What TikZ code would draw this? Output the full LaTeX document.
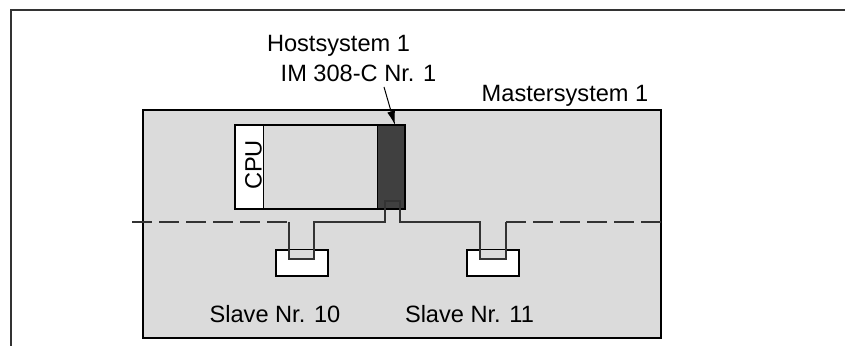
\documentclass[tikz,border=0pt]{standalone}
\usepackage{fontspec}
\setmainfont{Liberation Sans}
\usetikzlibrary{arrows.meta}
\definecolor{panelgrey}{gray}{0.86}
\definecolor{imgrey}{gray}{0.25}

\begin{document}
\begin{tikzpicture}[x=0.5pt,y=-0.5pt,
    font=\fontsize{11.8}{13}\selectfont,
    label/.style={anchor=base,inner sep=0pt},
    bus/.style={line width=0.6pt,draw=black!80},
    slavebox/.style={fill=white,line width=1.3pt},
    notch/.style={fill=panelgrey}]
    \useasboundingbox (0,0) rectangle (845,356);

    % frame and master system
    \draw [black!80,line width=0.6pt] (11,346) -- (11,10) -- (845,10);
    \draw [fill=panelgrey,line width=0.7pt] (143,110) rectangle (661,338);

    \coordinate (rackl) at (235,125);
    \coordinate (rackr) at (405,209);

    \draw [fill=white] (rackl) rectangle (263,209);
    \draw [fill=panelgrey] (263,125) rectangle (377,209);
    \draw [fill=imgrey] (377,125) rectangle (rackr);
    \draw [line width=1pt] (rackl) rectangle (rackr);
    \draw [fill=imgrey,line width=0.6pt] (385,201) rectangle (400,209);

    % slaves
    \draw [slavebox] (276,250) rectangle (328,276);
    \fill [notch] (289,250) rectangle (314,259);
    \draw [slavebox] (467,250) rectangle (519,276);
    \fill [notch] (480,250) rectangle (506,259);

    \coordinate (busl) at (132,222);
    \coordinate (busr) at (661,222);

    \draw [bus,dash pattern=on 10pt off 3.5pt] (busl) -- (289,222);
    \draw [bus] (289,222) -- (289,259) -- (314,259) -- (314,222) -- (385,222)
        -- (385,201) -- (400,201) -- (400,222) -- (480,222) -- (480,259)
        -- (506,259) -- (506,222);
    \draw [bus,dash pattern=on 10pt off 3.5pt] (506,222) -- (busr);

    % labels
    \node [label] (host) at (338.5,52) {Hostsystem 1};
    \node [label] (im) at (358.5,82) {IM 308-C Nr. 1};
    \node [label] (master) at (565,102) {Mastersystem 1};
    \node [rotate=90,inner sep=0pt] (cpu) at (253.5,165) {CPU};
    \node [label] (slave10) at (275,323) {Slave Nr. 10};
    \node [label] (slave11) at (469.5,323) {Slave Nr. 11};

    \coordinate (imfrom) at (384,87);
    \coordinate (imto) at (395,125);
    \draw [-{Latex[length=7pt,width=4pt]},line width=0.5pt] (imfrom) -- (imto);

\end{tikzpicture}
\end{document}
